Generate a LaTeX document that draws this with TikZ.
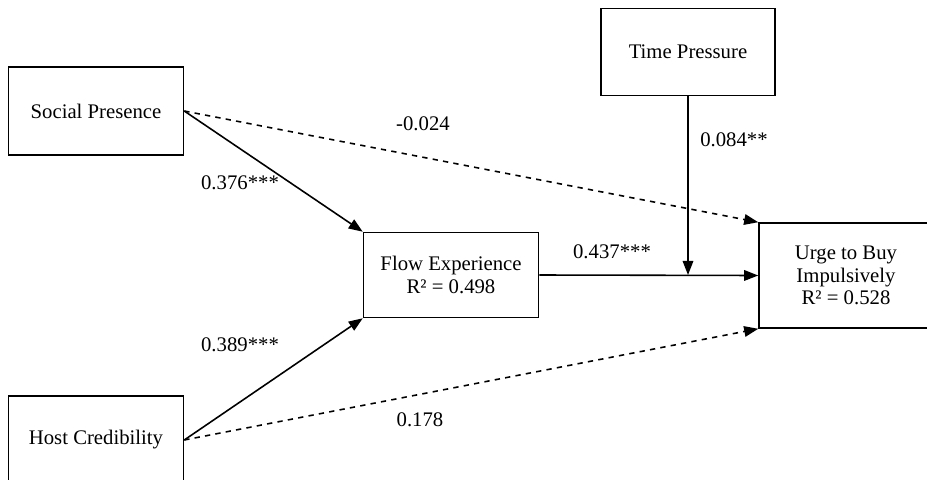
\documentclass[tikz,border=0pt]{standalone}
\usepackage{fontspec}
\setmainfont{Liberation Serif}
\usetikzlibrary{arrows.meta, calc}
\tikzset{
    blk/.style={draw, line width=0.9pt, minimum width=3.5cm, minimum height=1.76cm, align=center, inner sep=2pt},
    coef/.style={inner sep=1pt},
    bd/.style={>={Triangle[length=8pt, width=6pt]}, line width=0.9pt, x=0.02cm, y=-0.02cm,
        font=\fontsize{11.8}{12.8}\selectfont}
}
\begin{document}
\begin{tikzpicture}[bd]
        \useasboundingbox (0,0) rectangle (927,480);
        \node[blk] (sp) at (96,111) {Social Presence};
        \node[blk] (hc) at (96,440) {Host Credibility};
        \node[blk, minimum height=1.7cm] (fe) at (451,275) {Flow Experience\\R² = 0.498};
        \node[blk, minimum width=3.48cm, minimum height=1.74cm] (tp) at (688,52) {Time Pressure};
        \node[blk, minimum width=3.48cm, minimum height=2.1cm] (ub) at (846,275.5) {Urge to Buy\\Impulsively\\R² = 0.528};
        \coordinate (m) at (tp.south |- fe.east);

        \draw[->] (sp.east) -- (fe.north west);
        \draw[->] (hc.east) -- (fe.south west);
        \draw[->, dashed] (sp.east) -- (ub.north west);
        \draw[->, dashed] (hc.east) -- (ub.south west);
        \draw[->] (fe.east) -- (ub.west);
        \draw[->] (tp.south) -- (m);

        \node[coef] at (423,124) {-0.024};
        \node[coef] at (240,183) {0.376***};
        \node[coef] at (240,345) {0.389***};
        \node[coef] at (420,420) {0.178};
        \node[coef] at (612,252) {0.437***};
        \node[coef] at (734,140) {0.084**};
    \end{tikzpicture}
\end{document}
